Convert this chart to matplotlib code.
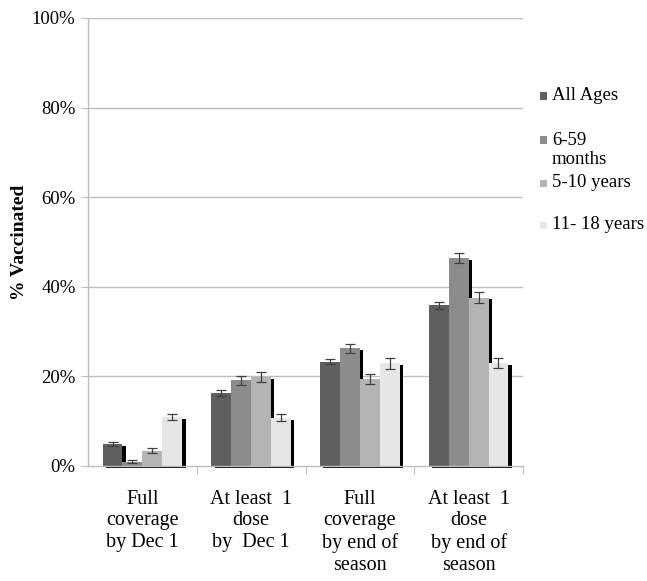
import matplotlib
matplotlib.use("Agg")
import matplotlib.pyplot as plt
import matplotlib.patheffects as pe
from matplotlib.patches import Rectangle
import numpy as np

plt.rcParams['font.family'] = ['Liberation Serif', 'DejaVu Serif']

categories = ["Full\ncoverage\nby Dec 1", "At least  1\ndose\nby  Dec 1",
              "Full\ncoverage\nby end of\nseason", "At least  1\ndose\nby end of\nseason"]
series_names = ["All Ages", "6-59\nmonths", "5-10 years", "11- 18 years"]
all_ages = [4.9, 16.3, 23.3, 35.9]
m6_59 = [1.0, 19.1, 26.3, 46.5]
y5_10 = [3.4, 19.9, 19.4, 37.6]
y11_18 = [10.9, 10.8, 22.9, 23.0]
err_all = [0.5, 0.7, 0.6, 0.8]
err_6_59 = [0.4, 1.0, 1.0, 1.1]
err_5_10 = [0.6, 1.1, 1.2, 1.3]
err_11_18 = [0.7, 0.8, 1.2, 1.1]
yticks = [0, 20, 40, 60, 80, 100]

values = [all_ages, m6_59, y5_10, y11_18]
errors = [err_all, err_6_59, err_5_10, err_11_18]
colors = ["#5f5f5f", "#8c8c8c", "#b4b4b4", "#e6e6e6"]

W, H = 647, 581
fig = plt.figure(figsize=(W / 100, H / 100), dpi=100)
ax = fig.add_axes([88 / W, 1 - 466 / H, (523 - 88) / W, (466 - 18) / H])

grid_c = "#bdbdbd"
ax.set_xlim(0, 4)
ax.set_ylim(0, 100)
for t in yticks[1:]:
    ax.axhline(t, color=grid_c, lw=1.0, zorder=0)

bw = 0.183
centers = np.arange(len(categories)) + 0.5
shadow = [pe.SimplePatchShadow(offset=(2.4, -1.4), shadow_rgbFace='black', alpha=1.0), pe.Normal()]
for i, (vals, errs, c) in enumerate(zip(values, errors, colors)):
    x = centers + (i - 1.5) * bw
    bars = ax.bar(x, vals, width=bw, color=c, edgecolor='none', zorder=2 + i * 0.01, clip_on=False)
    for b in bars:
        b.set_path_effects(shadow)
    ax.errorbar(x, vals, yerr=errs, fmt='none', ecolor='#404040', elinewidth=0.9,
                capsize=3.5, capthick=0.9, zorder=5)

for s in ['top', 'right']:
    ax.spines[s].set_visible(False)
for s in ['left', 'bottom']:
    ax.spines[s].set_color(grid_c)
    ax.spines[s].set_linewidth(1.0)

ax.set_yticks(yticks)
ax.set_yticklabels([f"{t}%" for t in yticks], fontsize=13.5)
ax.tick_params(axis='y', length=5, color=grid_c, pad=4)

ax.set_xticks([1, 2, 3, 4], minor=False)
ax.set_xticklabels([])
ax.tick_params(axis='x', which='major', length=6, color=grid_c)
ax.set_xticks(centers, minor=True)
ax.set_xticklabels(categories, minor=True, fontsize=14.5, linespacing=1.2)
ax.tick_params(axis='x', which='minor', length=0, pad=17)

ax.set_ylabel("% Vaccinated", fontsize=14, fontweight='bold', labelpad=3)

# legend
leg_y = [96, 140, 183, 225]
for name, c, yy in zip(series_names, colors, leg_y):
    fig.add_artist(Rectangle((540 / W, 1 - (yy + 3.5) / H), 7 / W, 7 / H,
                             transform=fig.transFigure, facecolor=c, edgecolor='none'))
    fig.text(552 / W, 1 - (yy - 8.5) / H, name, fontsize=13.5, va='top', ha='left',
             linespacing=1.2)

fig.savefig("out.png", dpi=100)
